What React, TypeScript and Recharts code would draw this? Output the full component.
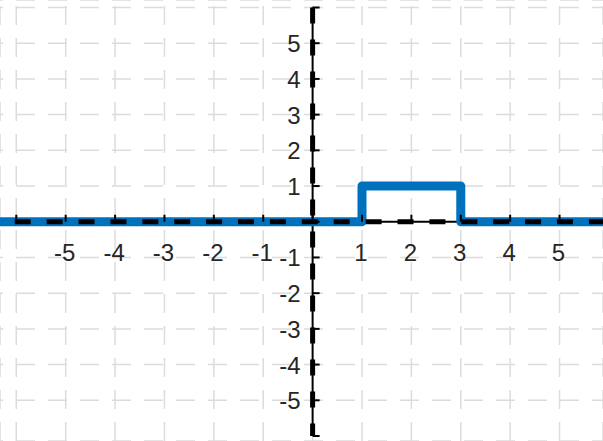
import React from "react";
import { LineChart, Line, XAxis, YAxis, CartesianGrid, ReferenceDot } from "recharts";

// rectangular pulse: 0 everywhere, 1 on [1, 3]
const stepX = [-7, 1, 1, 3, 3, 7];
const stepY = [0, 0, 1, 1, 0, 0];

// axis segments through the origin
const xAxisX = [-7, 7];
const yAxisY = [6, -6];

const gridTicks = [-6, -5, -4, -3, -2, -1, 0, 1, 2, 3, 4, 5, 6];
const labelTicks = [-5, -4, -3, -2, -1, 1, 2, 3, 4, 5];

const pulse = stepX.map((x, i) => ({ x, y: stepY[i] }));
const xAxisLine = xAxisX.map((x) => ({ x, y: 0 }));
const yAxisLine = yAxisY.map((y) => ({ x: 0, y }));

const BLUE = "#0072BD";
const TEXT = "#262626";
const FONT = "'Liberation Sans', Arial, Helvetica, sans-serif";

export default function App() {
  return (
    <div style={{ position: "absolute", left: 0, top: 0, width: 603, height: 441, background: "#fff" }}>
      <LineChart width={603} height={441} margin={{ top: 0, right: 0, bottom: 0, left: 0 }}>
        <XAxis
          type="number"
          dataKey="x"
          domain={[-6.33, 5.88]}
          ticks={gridTicks}
          allowDataOverflow
          hide
        />
        <YAxis type="number" dataKey="y" domain={[-6.14, 6.21]} ticks={gridTicks} allowDataOverflow hide />

        {/* dashed light grid, separate phases for each direction */}
        <CartesianGrid
          vertical={false}
          stroke="#dcdcdc"
          strokeWidth={1.5}
          strokeDasharray="19 13"
          strokeDashoffset={16}
        />
        <CartesianGrid
          horizontal={false}
          stroke="#dcdcdc"
          strokeWidth={1.5}
          strokeDasharray="19 13"
          strokeDashoffset={26}
        />

        {/* thin solid axis lines */}
        <Line data={xAxisLine} dataKey="y" stroke="#000" strokeWidth={2} dot={false} isAnimationActive={false} />
        <Line data={yAxisLine} dataKey="y" stroke="#000" strokeWidth={2} dot={false} isAnimationActive={false} />

        {/* tick marks on the axes */}
        {gridTicks.map((t) => (
          <ReferenceDot
            key={"yt" + t}
            x={0}
            y={t}
            ifOverflow="visible"
            shape={(p: any) => <line x1={p.cx} y1={p.cy} x2={p.cx + 7} y2={p.cy} stroke="#000" strokeWidth={2} />}
          />
        ))}
        {gridTicks.map((t) => (
          <ReferenceDot
            key={"xt" + t}
            x={t}
            y={0}
            ifOverflow="discard"
            shape={(p: any) => <line x1={p.cx} y1={p.cy} x2={p.cx} y2={p.cy - 7} stroke="#000" strokeWidth={2} />}
          />
        ))}

        <Line
          data={pulse}
          dataKey="y"
          stroke={BLUE}
          strokeWidth={9}
          strokeLinejoin="round"
          dot={false}
          isAnimationActive={false}
        />

        {/* heavy dashed axes on top */}
        <Line
          data={xAxisLine}
          dataKey="y"
          stroke="#000"
          strokeWidth={5}
          strokeDasharray="16 15.9"
          strokeDashoffset={16}
          dot={false}
          isAnimationActive={false}
        />
        <Line
          data={yAxisLine}
          dataKey="y"
          stroke="#000"
          strokeWidth={5}
          strokeDasharray="16 16"
          dot={false}
          isAnimationActive={false}
        />

        {/* tick labels */}
        {labelTicks.map((t) => (
          <ReferenceDot
            key={"xl" + t}
            x={t}
            y={0}
            ifOverflow="visible"
            shape={(p: any) => (
              <text
                x={p.cx - 1}
                y={p.cy + 39}
                textAnchor="middle"
                style={{ fontFamily: FONT, fontSize: 24, fill: TEXT }}
              >
                {t}
              </text>
            )}
          />
        ))}
        {labelTicks.map((t) => (
          <ReferenceDot
            key={"yl" + t}
            x={0}
            y={t}
            ifOverflow="visible"
            shape={(p: any) => (
              <text
                x={p.cx - 12}
                y={p.cy + 9}
                textAnchor="end"
                style={{ fontFamily: FONT, fontSize: 24, fill: TEXT }}
              >
                {t}
              </text>
            )}
          />
        ))}
      </LineChart>
    </div>
  );
}
